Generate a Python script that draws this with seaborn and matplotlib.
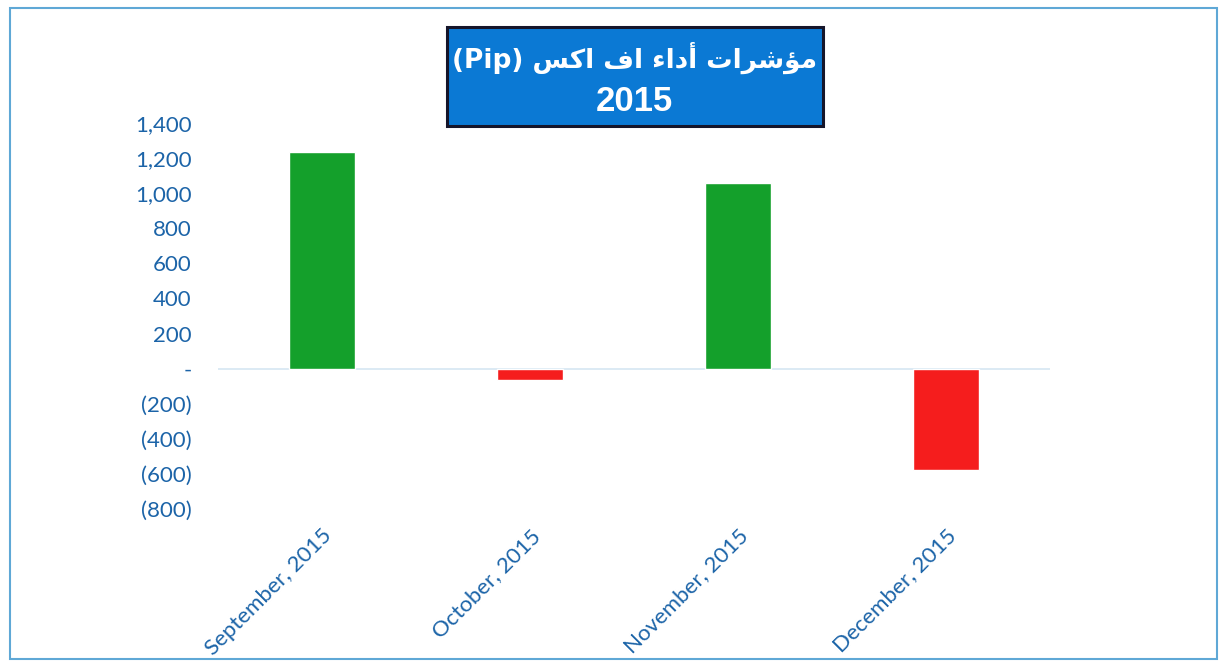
import matplotlib
matplotlib.use("Agg")
import matplotlib.pyplot as plt
import seaborn as sns
import pandas as pd
from matplotlib.patches import Rectangle
from matplotlib.ticker import FuncFormatter

months = ["September, 2015", "October, 2015", "November, 2015", "December, 2015"]
pips = [1235, -63, 1059, -579]
y_ticks = [-800, -600, -400, -200, 0, 200, 400, 600, 800, 1000, 1200, 1400]

# Arabic title in presentation forms, visual (left-to-right) order
title_words_visual = ["(Pip)", "\uFEB2\uFEDB\uFE8D", "\uFED1\uFE8D", "\uFE80\uFE8D\uFEA9\uFE83",
                      "\uFE95\uFE8D\uFEAE\uFEB7\uFE86\uFEE3"]
title_line1 = " ".join(title_words_visual)
title_line2 = "2015"

GREEN = "#14a02b"
RED = "#f51d1d"
TICK = "#1c64a8"

sns.set_theme(style="white")
plt.rcParams["font.family"] = ["Lato", "DejaVu Sans"]

df = pd.DataFrame({"month": months, "pips": pips})
df["sign"] = ["pos" if v >= 0 else "neg" for v in pips]

fig = plt.figure(figsize=(12.24, 6.66), dpi=100)
ax = fig.add_axes([0.178, 0.236, 0.68, 0.579])

sns.barplot(data=df, x="month", y="pips", hue="sign", palette={"pos": GREEN, "neg": RED},
            dodge=False, width=0.32, legend=False, ax=ax, saturation=1)

ax.set_xlim(-0.5, 3.5)
ax.set_ylim(-800, 1400)
ax.set_yticks(y_ticks)

def fmt(v, pos):
    v = int(round(v))
    if v == 0:
        return "-"
    if v < 0:
        return f"({abs(v):,})"
    return f"{v:,}"

ax.yaxis.set_major_formatter(FuncFormatter(fmt))
ax.axhline(0, color="#d6e6f2", lw=1.2, zorder=0)
for s in ax.spines.values():
    s.set_visible(False)
ax.set_xlabel("")
ax.set_ylabel("")
ax.tick_params(axis="y", colors=TICK, labelsize=16, length=0, pad=19)
ax.tick_params(axis="x", colors=TICK, labelsize=16, length=0, pad=12)
for lab in ax.get_xticklabels():
    lab.set_rotation(45)
    lab.set_ha("right")
    lab.set_rotation_mode("anchor")
for lab in ax.get_yticklabels():
    lab.set_ha("right")

# outer frame
fig.patches.append(Rectangle((0.008, 0.01), 0.986, 0.978, transform=fig.transFigure,
                             fill=False, edgecolor="#5fa8d6", lw=1.5))
# title box
fig.patches.append(Rectangle((0.365, 0.811), 0.307, 0.149, transform=fig.transFigure,
                             facecolor="#0b79d4", edgecolor="#15152a", lw=2.2))
fig.text(0.5185, 0.913, title_line1, ha="center", va="center", color="white",
         fontsize=19, fontweight="bold", family=["DejaVu Sans"])
fig.text(0.5185, 0.848, title_line2, ha="center", va="center", color="white",
         fontsize=25, fontweight="bold", family=["Liberation Sans", "DejaVu Sans"])

fig.savefig("out.png", dpi=100)
